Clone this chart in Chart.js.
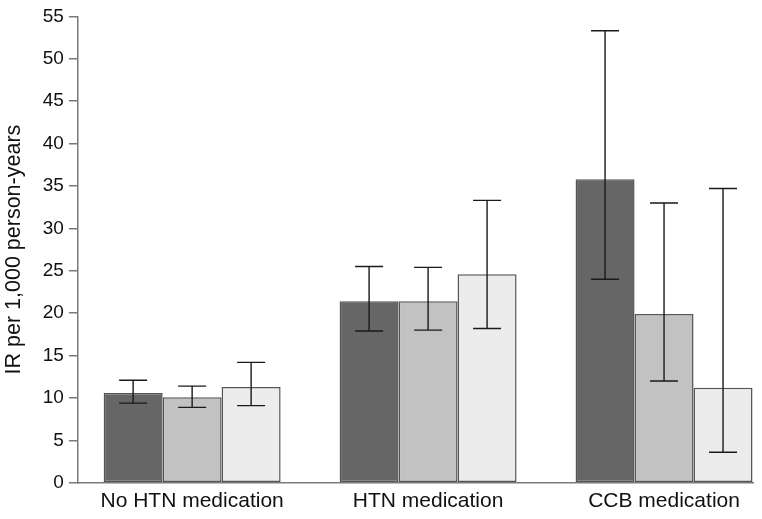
<!DOCTYPE html>
<html lang="en">
  <head>
    <meta charset="UTF-8" />
    <title>IR per 1,000 person-years</title>
    <style>
      html, body { margin: 0; padding: 0; background: #fff; }
      #wrap { width: 762px; height: 519px; }
    </style>
  </head>
  <body>
    <div id="wrap"><canvas id="myChart"></canvas></div>
    <script src="https://cdn.jsdelivr.net/npm/chart.js@4.4.1/dist/chart.umd.min.js"></script>
    <script>
      const categories = ["No HTN medication", "HTN medication", "CCB medication"];
      const yTicks = [0, 5, 10, 15, 20, 25, 30, 35, 40, 45, 50, 55];

      // three series, no legend in the figure
      const seriesA = [10.6, 21.4, 35.8];
      const seriesA_low = [9.4, 17.9, 24.0];
      const seriesA_high = [12.1, 25.5, 53.3];

      const seriesB = [10.1, 21.4, 19.9];
      const seriesB_low = [8.9, 18.0, 12.0];
      const seriesB_high = [11.4, 25.4, 33.0];

      const seriesC = [11.3, 24.6, 11.2];
      const seriesC_low = [9.1, 18.2, 3.6];
      const seriesC_high = [14.2, 33.3, 34.7];

      const COLORS = {
        dark: "#666666",
        mid: "#c2c2c2",
        light: "#ececec",
        edge: "#555555",
        axis: "#7a7a7a",
        text: "#111111",
      };

      const FONT = "'Liberation Sans', Arial, Helvetica, sans-serif";

      function toPoints(vals, lo, hi) {
        return vals.map((v, i) => ({ x: i, y: v, lo: lo[i], hi: hi[i] }));
      }

      // error bars drawn from the y scale
      const errorBars = {
        id: "errorBars",
        afterDatasetsDraw(chart) {
          const ctx = chart.ctx;
          const yScale = chart.scales.y;
          const cap = 14;
          ctx.save();
          ctx.strokeStyle = "#1a1a1a";
          ctx.lineWidth = 1.4;
          chart.data.datasets.forEach((ds, di) => {
            const meta = chart.getDatasetMeta(di);
            meta.data.forEach((bar, i) => {
              const p = ds.data[i];
              const x = bar.x;
              const yl = yScale.getPixelForValue(p.lo);
              const yh = yScale.getPixelForValue(p.hi);
              ctx.beginPath();
              ctx.moveTo(x, yl);
              ctx.lineTo(x, yh);
              ctx.moveTo(x - cap, yh);
              ctx.lineTo(x + cap, yh);
              ctx.moveTo(x - cap, yl);
              ctx.lineTo(x + cap, yl);
              ctx.stroke();
            });
          });
          ctx.restore();
        },
      };

      function barSet(label, vals, lo, hi, color) {
        return {
          label: label,
          data: toPoints(vals, lo, hi),
          backgroundColor: color,
          borderColor: COLORS.edge,
          borderWidth: 1.5,
          borderSkipped: false,
          categoryPercentage: 0.75,
          barPercentage: 1.0,
        };
      }

      const ctx = document.getElementById("myChart");
      const myChart = new Chart(ctx, {
        type: "bar",
        data: {
          datasets: [
            barSet("A", seriesA, seriesA_low, seriesA_high, COLORS.dark),
            barSet("B", seriesB, seriesB_low, seriesB_high, COLORS.mid),
            barSet("C", seriesC, seriesC_low, seriesC_high, COLORS.light),
          ],
        },
        options: {
          responsive: true,
          maintainAspectRatio: false,
          animation: false,
          layout: { padding: { top: 5, right: 9, bottom: 3, left: 1 } },
          plugins: {
            legend: { display: false },
            tooltip: { enabled: false },
          },
          scales: {
            x: {
              type: "linear",
              min: -0.484,
              max: 2.377,
              offset: false,
              grid: { display: false, tickLength: 4 },
              border: { display: true, color: COLORS.axis, width: 1.5 },
              afterBuildTicks(axis) {
                axis.ticks = categories.map((c, i) => ({ value: i }));
              },
              ticks: {
                padding: 2,
                color: COLORS.text,
                font: { family: FONT, size: 21 },
                maxRotation: 0,
                autoSkip: false,
                callback: (v) => categories[v],
              },
            },
            y: {
              min: 0,
              max: 55,
              afterBuildTicks(axis) {
                axis.ticks = yTicks.map((v) => ({ value: v }));
              },
              grid: {
                display: true,
                drawOnChartArea: false,
                drawTicks: true,
                tickLength: 9,
                tickColor: COLORS.axis,
                lineWidth: 1.5,
              },
              border: { display: true, color: COLORS.axis, width: 1.5 },
              ticks: {
                padding: 5,
                color: COLORS.text,
                font: { family: FONT, size: 19 },
              },
              title: {
                display: true,
                text: "IR per 1,000 person-years",
                color: COLORS.text,
                font: { family: FONT, size: 21.5 },
                padding: { top: 0, bottom: 11 },
              },
            },
          },
        },
        plugins: [errorBars],
      });
    </script>
  </body>
</html>
